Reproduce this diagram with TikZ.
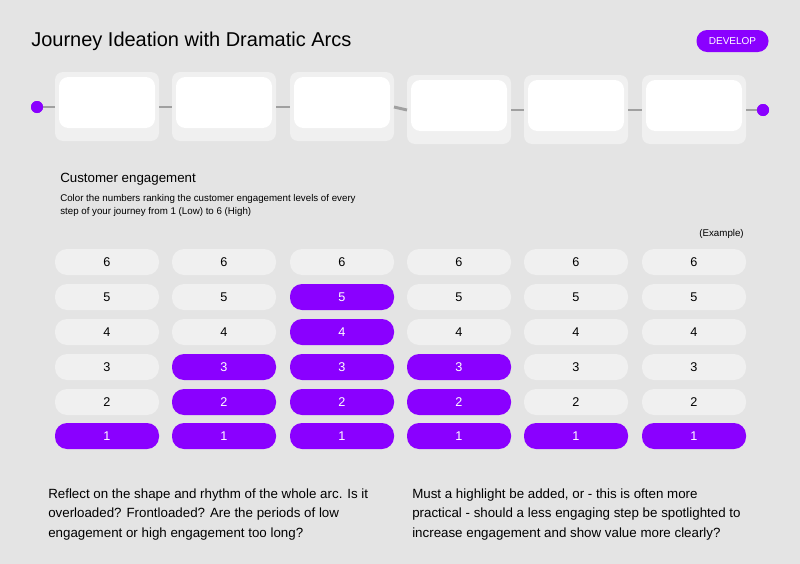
\documentclass[tikz,border=0pt]{standalone}
\usepackage{fontspec}
\setmainfont{Liberation Sans}
\definecolor{bg}{HTML}{E4E4E4}
\definecolor{card}{HTML}{F0F0F0}
\definecolor{pur}{HTML}{8A00FF}
\definecolor{ln}{HTML}{A0A0A0}
\begin{document}
\begin{tikzpicture}[x=0.75pt,y=-0.75pt,
  outer/.style={fill=card,rounded corners=6pt},
  inner/.style={fill=white,rounded corners=7pt},
  pill/.style={rounded corners=9pt,minimum width=78pt,minimum height=19.5pt,inner sep=0pt,font=\fontsize{9.5}{11}\selectfont},
  off/.style={pill,fill=card,text=black},
  on/.style={pill,fill=pur,text=white},
  txt/.style={anchor=north west,inner sep=0pt,align=left}]
\fill[bg] (0,0) rectangle (800,564);
\node[txt,font=\fontsize{15}{18}\selectfont] (title) at (31,32) {Journey Ideation with Dramatic Arcs};
\node[fill=pur,text=white,rounded corners=8pt,minimum width=54pt,minimum height=16.5pt,inner sep=0pt,font=\fontsize{7.5}{9}\selectfont] (dev) at (732.5,41) {DEVELOP};
% journey row
\foreach \i/\x/\y in {1/55/72,2/172/72,3/290/72,4/407/75,5/524/75,6/642/75}{
  \fill[outer] (\x,\y) rectangle ++(104,69);
  \fill[inner] (\x+4,\y+5) rectangle ++(96,51);
  \coordinate (L\i) at (\x,\y+35);
  \coordinate (R\i) at (\x+104,\y+35);
}
\fill[pur] (37,107) circle (6) coordinate (s);
\fill[pur] (763,110) circle (6) coordinate (e);
\foreach \a/\b in {s/L1,R1/L2,R2/L3,R3/L4,R4/L5,R5/L6,R6/e}
  \draw[ln,line width=2.2pt] (\a) -- (\b);
\fill[pur] (37,107) circle (6);
\fill[pur] (763,110) circle (6);
% texts
\node[txt,font=\fontsize{10}{12}\selectfont] (ce) at (60,173) {Customer engagement};
\node[txt,font=\fontsize{7.3}{9.8}\selectfont] (desc) at (60,194) {Color the numbers ranking the customer engagement levels of every\\step of your journey from 1 (Low) to 6 (High)};
\node[anchor=north east,inner sep=0pt,font=\fontsize{7.3}{9}\selectfont] (ex) at (744,229) {(Example)};
% grid
\foreach \c/\x/\h in {1/107/1,2/224/3,3/342/5,4/459/3,5/576/1,6/694/1}{
  \foreach \r/\y in {1/436,2/402,3/367,4/332,5/297,6/262}{
    \ifnum\r>\h \node[off] (g\c\r) at (\x,\y) {\r};
    \else \node[on] (g\c\r) at (\x,\y) {\r}; \fi
  }
}
\node[txt,font=\fontsize{10}{14.3}\selectfont] (q1) at (48,489) {Reflect on the shape and rhythm of the whole arc. Is it\\overloaded? Frontloaded? Are the periods of low\\engagement or high engagement too long?};
\node[txt,font=\fontsize{10}{14.3}\selectfont] (q2) at (412,489) {Must a highlight be added, or - this is often more\\practical - should a less engaging step be spotlighted to\\increase engagement and show value more clearly?};
\end{tikzpicture}
\end{document}
